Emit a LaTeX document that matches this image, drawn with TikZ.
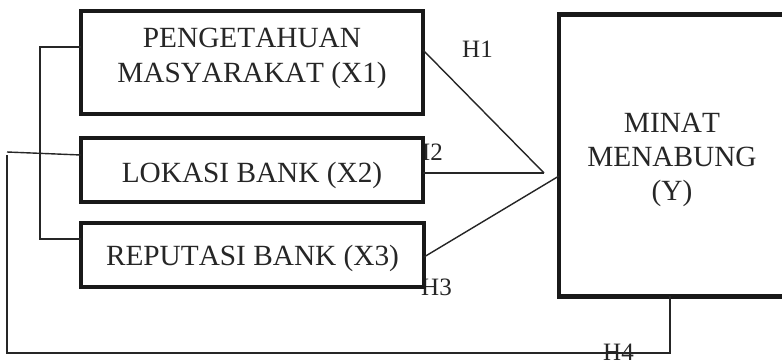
\documentclass[tikz,border=0pt]{standalone}
\usepackage{fontspec}
\setmainfont[Kerning=Off]{Liberation Serif}
\begin{document}
\begin{tikzpicture}[x=1pt,y=-1pt,
  boxstyle/.style={draw=black!90, line width=4.6pt, fill=white, inner sep=0pt, outer sep=0pt},
  boxtext/.style={inner sep=0pt, align=center, font=\fontsize{29.3}{35}\selectfont, text=black!85},
  link/.style={draw=black!85, line width=1.4pt},
  hlabel/.style={font=\fontsize{25}{30}\selectfont, text=black!85, inner sep=0pt, anchor=base west}]
\clip (0,0) rectangle (782,364);
\fill[white] (0,0) rectangle (782,364);
% labels drawn first so the boxes overlap them
\node[hlabel] (h1) at (462,57) {H1};
\node[hlabel] (h2) at (412,160) {H2};
\node[hlabel] (h3) at (421,295) {H3};
\node[hlabel] (h4) at (603,360) {H4};
% boxes
\node[boxstyle, minimum width=342pt, minimum height=103pt] (x1) at (252,62.5) {};
\node[boxstyle, minimum width=342pt, minimum height=64pt] (x2) at (252,170) {};
\node[boxstyle, minimum width=343pt, minimum height=64pt] (x3) at (252.5,255) {};
\node[boxstyle, minimum width=226pt, minimum height=281.5pt] (y) at (672,155.5) {};
% box texts
\node[boxtext] (x1t) at ([yshift=4pt]x1.center) {PENGETAHUAN\\MASYARAKAT (X1)};
\node[boxtext] (x2t) at ([yshift=-5pt]x2.center) {LOKASI BANK (X2)};
\node[boxtext] (x3t) at ([yshift=-3pt]x3.center) {REPUTASI BANK (X3)};
\node[boxtext, font=\fontsize{29.3}{34}\selectfont] (yt) at ([yshift=-4pt]y.center) {MINAT\\MENABUNG\\(Y)};
% coordinates
\coordinate (m) at (544,173);
\coordinate (a1) at ([yshift=15.5pt]x1.west);
\coordinate (a3) at ([yshift=16pt]x3.west);
\coordinate (b1) at (40,47);
\coordinate (b3) at (40,239);
\coordinate (ll) at (7,152);
\coordinate (lt) at (7,155);
\coordinate (lbot) at (7,353);
\coordinate (rbot) at (670,353);
% connectors
\draw[link] ([yshift=12.5pt]x1.east) -- (m);
\draw[link] ([yshift=-3pt]x2.east) -- (m);
\draw[link] ([yshift=-2pt]x3.east) -- ([yshift=-20.5pt]y.west);
\draw[link] (a1) -- (b1) -- (b3) -- (a3);
\draw[link] (ll) -- ([yshift=15pt]x2.west);
\draw[link] (lt) -- (lbot) -- (rbot) -- (rbot |- y.south);
\end{tikzpicture}
\end{document}
